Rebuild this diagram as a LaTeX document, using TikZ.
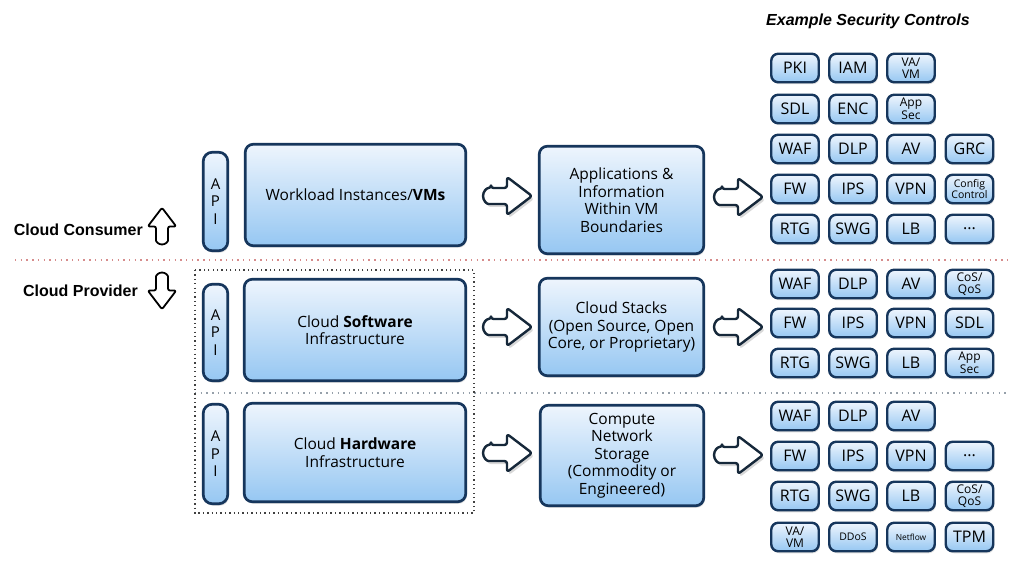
\documentclass[tikz,border=0pt]{standalone}
\usepackage{fontspec}
\setmainfont{Open Sans}
\newfontfamily\hf{Liberation Sans}
\usetikzlibrary{shadows}
\definecolor{navy}{RGB}{22,54,92}
\definecolor{boxtop}{RGB}{238,245,253}
\definecolor{boxbot}{RGB}{150,199,242}
\definecolor{arrline}{RGB}{22,40,58}
\definecolor{pinkdot}{RGB}{214,140,140}
\definecolor{graydot}{RGB}{150,160,170}
\tikzset{
 box/.style={draw=navy, line width=2.7pt, rounded corners=8pt, top color=boxtop, bottom color=boxbot,
   drop shadow={opacity=0.25, shadow xshift=1pt, shadow yshift=-2pt}, align=center, inner sep=0pt,
   font=\fontsize{15.5}{17.5}\selectfont},
 apibox/.style={box, rounded corners=9pt, minimum width=24.5pt, font=\fontsize{15}{17.5}\selectfont},
 sec/.style={box, line width=2.4pt, rounded corners=7pt, minimum width=47.5pt, minimum height=28.5pt,
   font=\fontsize{16}{17}\selectfont},
 sm/.style={font=\fontsize{12}{12.5}\selectfont},
 xs/.style={font=\fontsize{10.5}{11}\selectfont},
 xxs/.style={font=\fontsize{8.4}{9}\selectfont},
 arrsty/.style={draw=arrline, fill=white, line width=2.4pt, line join=round, rounded corners=2.5pt,
   drop shadow={opacity=0.3, shadow xshift=2pt, shadow yshift=-3pt}},
 carrsty/.style={draw=black, fill=white, line width=1.8pt, line join=round, rounded corners=2pt},
 rarr/.pic={\path[arrsty] (-16,-8) -- (0,-8) -- (0,-19) -- (25,0) -- (0,19) -- (0,8) -- (-16,8)
   arc[start angle=90, end angle=270, radius=8] -- cycle;},
 carr/.pic={\path[carrsty] (-16,-8) -- (0,-8) -- (0,-19) -- (25,0) -- (0,19) -- (0,8) -- (-16,8)
   arc[start angle=90, end angle=270, radius=8] -- cycle;},
 lab/.style={font=\hf\bfseries\fontsize{16}{18}\selectfont, inner sep=0pt},
}
\begin{document}
\begin{tikzpicture}[x=1pt,y=-1pt]
\fill[white] (0,0) rectangle (1023,561);
\useasboundingbox (0,0) rectangle (1023,561);

% title
\node[font=\hf\bfseries\itshape\fontsize{16}{18}\selectfont, inner sep=0pt] (title) at (868,21) {Example Security Controls};

% separators
\draw[pinkdot, line width=1.5pt, dash pattern=on 1.4pt off 4.3pt] (15,260) -- (1010,260);
\draw[graydot, line width=1.5pt, dash pattern=on 1.4pt off 4.3pt] (195,393) -- (1010,393);
\draw[black!75, line width=1.4pt, dash pattern=on 1.3pt off 3.1pt] (195,270) rectangle (474,513);

% consumer / provider
\node[lab, anchor=east] (cons) at (143,230) {Cloud Consumer};
\node[lab, anchor=east] (prov) at (138,291) {Cloud Provider};
\pic[rotate=90, scale=0.75] at (162,226.5) {carr};
\pic[rotate=-90, scale=0.75] at (162,290.5) {carr};

% API boxes
\node[apibox, minimum height=98.5pt] (api1) at (215.5,201.5) {A\\P\\I};
\node[apibox, minimum height=96.5pt] (api2) at (215.5,332.5) {A\\P\\I};
\node[apibox, minimum height=99.5pt] (api3) at (215.5,454) {A\\P\\I};

% main boxes
\node[box, minimum width=220.5pt, minimum height=101.5pt] (wl) at (355.5,195) {Workload Instances/\textbf{VMs}};
\node[box, minimum width=221.5pt, minimum height=101.5pt] (sw) at (355,330) {Cloud \textbf{Software}\\Infrastructure};
\node[box, minimum width=221.5pt, minimum height=98.5pt] (hw) at (355,452.5) {Cloud \textbf{Hardware}\\Infrastructure};

% middle boxes
\node[box, minimum width=164.5pt, minimum height=107.5pt] (apps) at (621.5,200) {Applications \&\\Information\\Within VM\\Boundaries};
\node[box, minimum width=164.5pt, minimum height=97.5pt] (stacks) at (621.5,327) {Cloud Stacks\\(Open Source, Open\\Core, or Proprietary)};
\node[box, minimum width=163.5pt, minimum height=100.5pt] (comp) at (622,455.5) {Compute\\Network\\Storage\\(Commodity or\\Engineered)};

% block arrows
\pic at (507,196) {rarr};
\pic at (507,327) {rarr};
\pic at (507,453) {rarr};
\pic at (738,197) {rarr};
\pic at (738,327) {rarr};
\pic at (738,455) {rarr};

% security controls group 1
\node[sec] (a11) at (795,68) {PKI};
\node[sec] (a12) at (853,68) {IAM};
\node[sec,sm] (a13) at (911,68) {VA/\\VM};
\node[sec] (a21) at (795,109) {SDL};
\node[sec] (a22) at (853,109) {ENC};
\node[sec,sm] (a23) at (911,109) {App\\Sec};
\node[sec] (a31) at (795,149) {WAF};
\node[sec] (a32) at (853,149) {DLP};
\node[sec] (a33) at (911,149) {AV};
\node[sec] (a34) at (969.5,149) {GRC};
\node[sec] (a41) at (795,189) {FW};
\node[sec] (a42) at (853,189) {IPS};
\node[sec] (a43) at (911,189) {VPN};
\node[sec,xs] (a44) at (969.5,189) {Config\\Control};
\node[sec] (a51) at (795,229) {RTG};
\node[sec] (a52) at (853,229) {SWG};
\node[sec] (a53) at (911,229) {LB};
\node[sec] (a54) at (969.5,229) {...};

% group 2
\node[sec] (b11) at (795,284) {WAF};
\node[sec] (b12) at (853,284) {DLP};
\node[sec] (b13) at (911,284) {AV};
\node[sec,sm] (b14) at (969.5,284) {CoS/\\QoS};
\node[sec] (b21) at (795,323) {FW};
\node[sec] (b22) at (853,323) {IPS};
\node[sec] (b23) at (911,323) {VPN};
\node[sec] (b24) at (969.5,323) {SDL};
\node[sec] (b31) at (795,363) {RTG};
\node[sec] (b32) at (853,363) {SWG};
\node[sec] (b33) at (911,363) {LB};
\node[sec,sm] (b34) at (969.5,363) {App\\Sec};

% group 3
\node[sec] (c11) at (795,416) {WAF};
\node[sec] (c12) at (853,416) {DLP};
\node[sec] (c13) at (911,416) {AV};
\node[sec] (c21) at (795,456) {FW};
\node[sec] (c22) at (853,456) {IPS};
\node[sec] (c23) at (911,456) {VPN};
\node[sec] (c24) at (969.5,456) {...};
\node[sec] (c31) at (795,496) {RTG};
\node[sec] (c32) at (853,496) {SWG};
\node[sec] (c33) at (911,496) {LB};
\node[sec,sm] (c34) at (969.5,496) {CoS/\\QoS};
\node[sec,sm] (c41) at (795,537) {VA/\\VM};
\node[sec,xs] (c42) at (853,537) {DDoS};
\node[sec,xxs] (c43) at (911,537) {Netflow};
\node[sec] (c44) at (969.5,537) {TPM};
\end{tikzpicture}
\end{document}
